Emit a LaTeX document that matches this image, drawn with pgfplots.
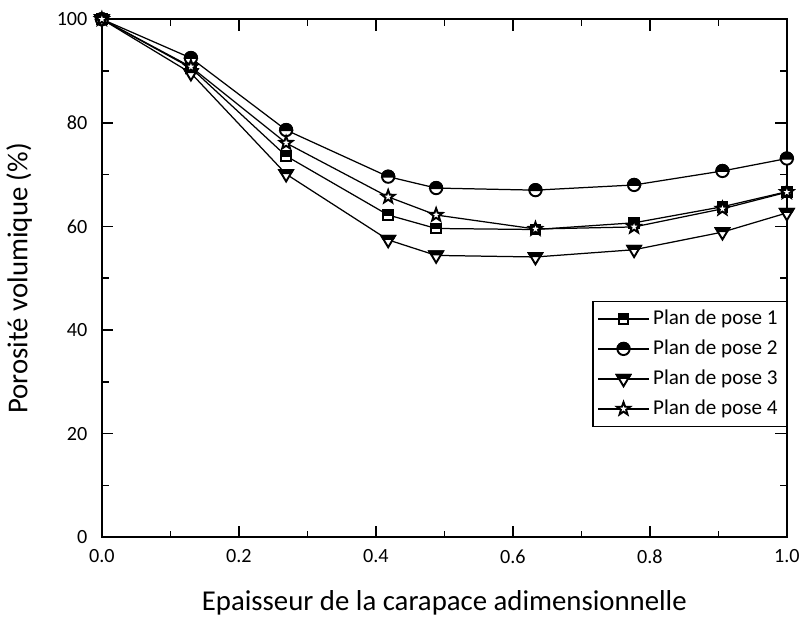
\documentclass[border=0pt]{standalone}
\usepackage{pgfplots}
\pgfplotsset{compat=1.18}
\usepackage{fontspec}
\setmainfont{Carlito}
\pgfdeclareplotmark{hsq}{%
  \pgfpathrectangle{\pgfqpoint{-0.8\pgfplotmarksize}{-0.8\pgfplotmarksize}}{\pgfqpoint{1.6\pgfplotmarksize}{1.6\pgfplotmarksize}}%
  \pgfsetfillcolor{white}\pgfusepathqfillstroke
  \pgfpathrectangle{\pgfqpoint{-0.8\pgfplotmarksize}{0pt}}{\pgfqpoint{1.6\pgfplotmarksize}{0.8\pgfplotmarksize}}%
  \pgfsetfillcolor{black}\pgfusepathqfillstroke
}
\pgfdeclareplotmark{hci}{%
  \pgfpathcircle{\pgfpointorigin}{\pgfplotmarksize}%
  \pgfsetfillcolor{white}\pgfusepathqfillstroke
  \pgfpathmoveto{\pgfqpoint{-\pgfplotmarksize}{0pt}}%
  \pgfpatharc{180}{0}{\pgfplotmarksize}%
  \pgfpathclose
  \pgfsetfillcolor{black}\pgfusepathqfillstroke
}
\pgfdeclareplotmark{htri}{%
  \pgfpathmoveto{\pgfqpoint{-1.1\pgfplotmarksize}{0.65\pgfplotmarksize}}%
  \pgfpathlineto{\pgfqpoint{1.1\pgfplotmarksize}{0.65\pgfplotmarksize}}%
  \pgfpathlineto{\pgfqpoint{0pt}{-1.2\pgfplotmarksize}}%
  \pgfpathclose
  \pgfsetfillcolor{white}\pgfusepathqfillstroke
  \pgfpathmoveto{\pgfqpoint{-1.1\pgfplotmarksize}{0.65\pgfplotmarksize}}%
  \pgfpathlineto{\pgfqpoint{1.1\pgfplotmarksize}{0.65\pgfplotmarksize}}%
  \pgfpathlineto{\pgfqpoint{0.8\pgfplotmarksize}{0.15\pgfplotmarksize}}%
  \pgfpathlineto{\pgfqpoint{-0.8\pgfplotmarksize}{0.15\pgfplotmarksize}}%
  \pgfpathclose
  \pgfsetfillcolor{black}\pgfusepathqfillstroke
}
\pgfdeclareplotmark{hstar}{%
  \pgfpathmoveto{\pgfpointpolar{90}{1.1\pgfplotmarksize}}%
  \pgfpathlineto{\pgfpointpolar{126}{0.45\pgfplotmarksize}}%
  \pgfpathlineto{\pgfpointpolar{162}{1.1\pgfplotmarksize}}%
  \pgfpathlineto{\pgfpointpolar{198}{0.45\pgfplotmarksize}}%
  \pgfpathlineto{\pgfpointpolar{234}{1.1\pgfplotmarksize}}%
  \pgfpathlineto{\pgfpointpolar{270}{0.45\pgfplotmarksize}}%
  \pgfpathlineto{\pgfpointpolar{306}{1.1\pgfplotmarksize}}%
  \pgfpathlineto{\pgfpointpolar{342}{0.45\pgfplotmarksize}}%
  \pgfpathlineto{\pgfpointpolar{18}{1.1\pgfplotmarksize}}%
  \pgfpathlineto{\pgfpointpolar{54}{0.45\pgfplotmarksize}}%
  \pgfpathclose
  \pgfsetfillcolor{white}\pgfusepathqfillstroke
}
\pgfplotstableread{
x s1 s2 s3 s4
0.000 100.0 100.0 100.0 100.0
0.130 90.6 92.5 89.6 90.8
0.269 73.6 78.6 70.1 76.1
0.418 62.2 69.6 57.4 65.7
0.488 59.6 67.4 54.4 62.2
0.633 59.4 67.0 54.1 59.5
0.777 60.7 68.0 55.5 59.9
0.906 63.8 70.7 58.9 63.4
1.000 66.7 73.1 62.6 66.6
}\data
\begin{document}
\begin{tikzpicture}
\begin{axis}[
  scale only axis,
  width=357pt, height=270pt,
  xmin=0, xmax=1, ymin=0, ymax=100,
  xtick={0,0.2,0.4,0.6,0.8,1.0},
  ytick={0,20,40,60,80,100},
  minor x tick num=1, minor y tick num=1,
  tick align=inside,
  major tick length=6pt, minor tick length=3.5pt,
  axis line style={line width=1.1pt},
  every tick/.style={line width=0.8pt, black},
  xticklabel style={yshift=-3pt, /pgf/number format/.cd, fixed, fixed zerofill, precision=1},
  yticklabel style={xshift=-4pt},
  /pgf/number format/assume math mode=true,
  tick label style={font=\fontsize{10.5}{12}\selectfont},
  xlabel={Epaisseur de la carapace adimensionnelle},
  ylabel={Porosité volumique (\%)},
  label style={font=\fontsize{15}{18}\selectfont},
  xlabel style={yshift=-7pt},
  ylabel style={yshift=6pt},
  legend style={at={(1,0.213)}, anchor=south east, draw=black, line width=0.6pt,
    font=\fontsize{11}{13}\selectfont, row sep=2.5pt, inner sep=2.5pt},
  legend cell align=left,
  legend image code/.code={\draw[mark repeat=2,mark phase=2,#1] plot coordinates {(0cm,0cm) (0.46cm,0cm) (0.92cm,0cm)};},
  every axis plot/.append style={line width=0.65pt, black, mark size=3.2pt},
]
\addplot[mark=hsq, mark options={line width=1pt}] table[x=x,y=s1]{\data};
\addplot[mark=hci, mark options={line width=1pt}] table[x=x,y=s2]{\data};
\addplot[mark=htri, mark options={line width=1pt}] table[x=x,y=s3]{\data};
\addplot[mark=hstar, mark options={line width=1pt}] table[x=x,y=s4]{\data};
\legend{Plan de pose 1, Plan de pose 2, Plan de pose 3, Plan de pose 4}
\end{axis}
\path ([yshift=10pt]current axis.north west);
\end{tikzpicture}
\end{document}
